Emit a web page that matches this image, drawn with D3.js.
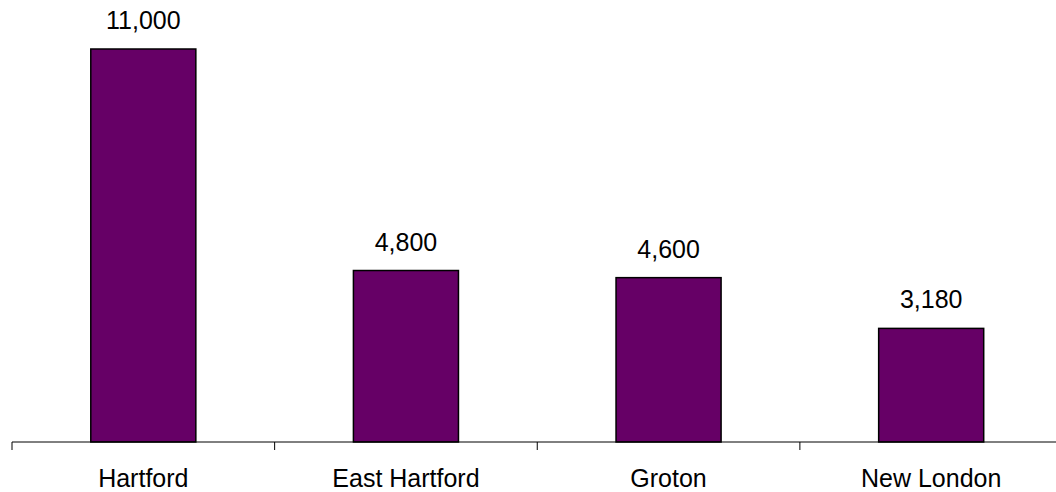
<!DOCTYPE html>
<html lang="en">
	<head>
		<meta charset="utf-8">
		<title>D3: Bar chart</title>
		<script type="text/javascript" src="https://d3js.org/d3.v7.min.js"></script>
		<style type="text/css">
			body {
				margin: 0;
				background: #ffffff;
			}
			.label {
				font-family: "Liberation Sans", Arial, Helvetica, sans-serif;
				font-size: 25px;
				fill: #000000;
			}
			.bar {
				fill: #660066;
				stroke: #000000;
				stroke-width: 1.5;
			}
			.axis-line {
				stroke: #000000;
				stroke-width: 1;
			}
		</style>
	</head>
	<body>
		<div id="chart"></div>
		<script type="text/javascript">
			//Data
			const categories = ["Hartford", "East Hartford", "Groton", "New London"];
			const values = [11000, 4800, 4600, 3180];

			//Size
			const width = 1056;
			const height = 492;
			const plot = { left: 12, right: 1062.5, top: 49, bottom: 442 };

			const data = categories.map(function(c, i) { return { name: c, value: values[i] }; });

			//Scales
			const xScale = d3.scaleBand()
				.domain(categories)
				.range([plot.left, plot.right])
				.paddingInner(0.6)
				.paddingOuter(0.3);

			const yScale = d3.scaleLinear()
				.domain([0, d3.max(values)])
				.range([plot.bottom, plot.top]);

			const formatValue = d3.format(",");

			const svg = d3.select("#chart")
				.append("svg")
				.attr("width", width)
				.attr("height", height);

			//Bars
			svg.selectAll(".bar")
				.data(data)
				.enter()
				.append("rect")
				.attr("class", "bar")
				.attr("x", function(d) { return xScale(d.name); })
				.attr("y", function(d) { return yScale(d.value); })
				.attr("width", xScale.bandwidth())
				.attr("height", function(d) { return yScale(0) - yScale(d.value); });

			//Value labels
			svg.selectAll(".value")
				.data(data)
				.enter()
				.append("text")
				.attr("class", "label")
				.attr("text-anchor", "middle")
				.attr("x", function(d) { return xScale(d.name) + xScale.bandwidth() / 2; })
				.attr("y", function(d) { return yScale(d.value) - 20; })
				.text(function(d) { return formatValue(d.value); });

			//Axis line
			svg.append("line")
				.attr("class", "axis-line")
				.attr("x1", plot.left)
				.attr("x2", plot.right)
				.attr("y1", yScale(0))
				.attr("y2", yScale(0));

			//Category boundary ticks
			const step = xScale.step();
			const bounds = d3.range(categories.length + 1).map(function(i) { return plot.left + i * step; });
			svg.selectAll(".tick")
				.data(bounds)
				.enter()
				.append("line")
				.attr("class", "axis-line")
				.attr("x1", function(d) { return d; })
				.attr("x2", function(d) { return d; })
				.attr("y1", yScale(0))
				.attr("y2", yScale(0) + 8);

			//Category labels
			svg.selectAll(".cat")
				.data(data)
				.enter()
				.append("text")
				.attr("class", "label")
				.attr("text-anchor", "middle")
				.attr("x", function(d) { return xScale(d.name) + xScale.bandwidth() / 2; })
				.attr("y", yScale(0) + 45)
				.text(function(d) { return d.name; });
		</script>
	</body>
</html>
